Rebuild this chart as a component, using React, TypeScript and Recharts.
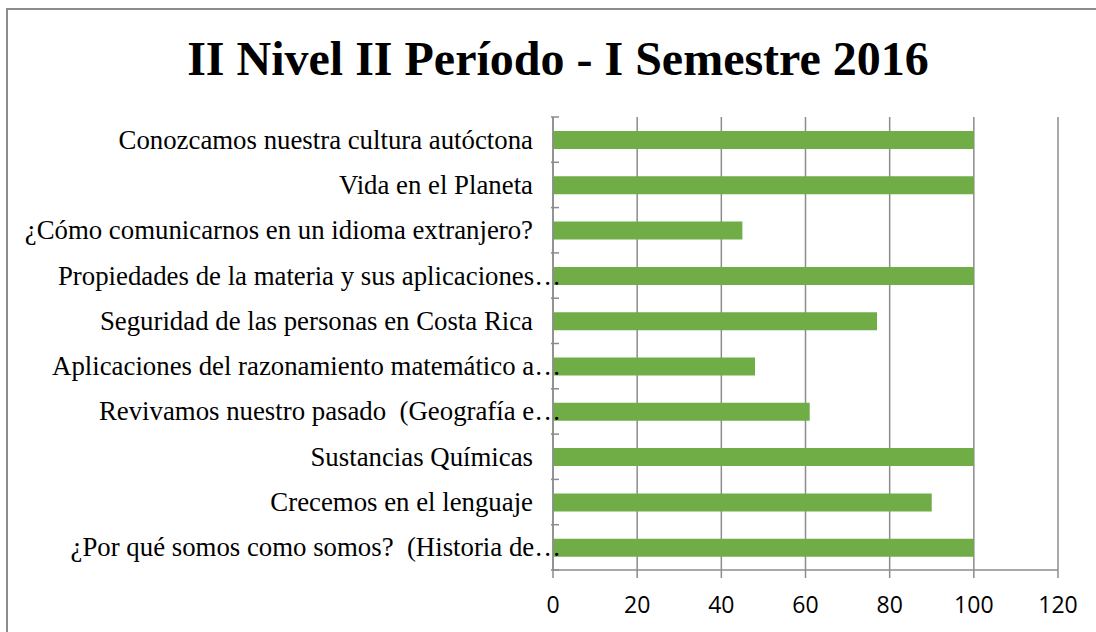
import { BarChart, Bar, XAxis, YAxis, CartesianGrid } from 'recharts'

const categories = [
  'Conozcamos nuestra cultura autóctona',
  'Vida en el Planeta',
  '¿Cómo comunicarnos en un idioma extranjero?',
  'Propiedades de la materia y sus aplicaciones…',
  'Seguridad de las personas en Costa Rica',
  'Aplicaciones del razonamiento matemático a…',
  'Revivamos nuestro pasado  (Geografía e…',
  'Sustancias Químicas',
  'Crecemos en el lenguaje',
  '¿Por qué somos como somos?  (Historia de…',
]

const values = [100, 100, 45, 100, 77, 48, 61, 100, 90, 100]

const xTicks = [0, 20, 40, 60, 80, 100, 120]

const data = categories.map((name, i) => ({ name, value: values[i] }))

const GREEN = '#70AD47'
const GRID = '#8c8c8c'
const BAND = 45.3

function CategoryTick(props: any) {
  const { x, y, payload, index } = props
  const label: string = payload.value
  const truncated = label.endsWith('…')
  const axisX = x + 8
  return (
    <g>
      <line x1={axisX - 8} x2={axisX} y1={y - BAND / 2} y2={y - BAND / 2} stroke={GRID} strokeWidth={1.5} />
      {index === categories.length - 1 && (
        <line x1={axisX - 8} x2={axisX} y1={y + BAND / 2} y2={y + BAND / 2} stroke={GRID} strokeWidth={1.5} />
      )}
      <text
        x={truncated ? axisX + 2 : axisX - 26}
        y={y}
        dy={9}
        textAnchor="end"
        fill="#000"
        style={{ fontFamily: '"Liberation Serif", "Times New Roman", serif', fontSize: 26.8, whiteSpace: 'pre' }}
      >
        {label}
      </text>
    </g>
  )
}

export default function App() {
  return (
    <div style={{ position: 'absolute', left: 0, top: 0, width: 1096, height: 632, background: '#fff', overflow: 'hidden' }}>
      <div
        style={{
          position: 'absolute',
          left: 6,
          top: 8,
          width: 1200,
          height: 700,
          borderLeft: `2px solid ${GRID}`,
          borderTop: `2px solid ${GRID}`,
        }}
      />
      <div
        style={{
          position: 'absolute',
          left: 8,
          width: 1100,
          top: 29,
          textAlign: 'center',
          fontFamily: '"Liberation Serif", "Times New Roman", serif',
          fontWeight: 'bold',
          fontSize: 48,
          lineHeight: '60px',
          color: '#000',
        }}
      >
        II Nivel II Período - I Semestre 2016
      </div>
      <div style={{ position: 'absolute', left: 0, top: 0 }}>
        <BarChart
          width={1096}
          height={632}
          data={data}
          layout="vertical"
          margin={{ top: 117, right: 38, bottom: 22, left: 8 }}
          barSize={18}
        >
          <CartesianGrid horizontal={false} stroke={GRID} strokeWidth={1.5} />
          <XAxis
            type="number"
            domain={[0, 120]}
            ticks={xTicks}
            interval={0}
            axisLine={{ stroke: GRID, strokeWidth: 1.5 }}
            tickLine={{ stroke: GRID, strokeWidth: 1.5 }}
            tickSize={8}
            height={40}
            tick={{ fill: '#000', fontSize: 23, fontFamily: '"Open Sans", Calibri, sans-serif', dy: 17 }}
          />
          <YAxis
            type="category"
            dataKey="name"
            width={545}
            interval={0}
            axisLine={{ stroke: GRID, strokeWidth: 1.5 }}
            tickLine={false}
            tickSize={0}
            tick={<CategoryTick />}
          />
          <Bar dataKey="value" fill={GREEN} isAnimationActive={false} />
        </BarChart>
      </div>
    </div>
  )
}
